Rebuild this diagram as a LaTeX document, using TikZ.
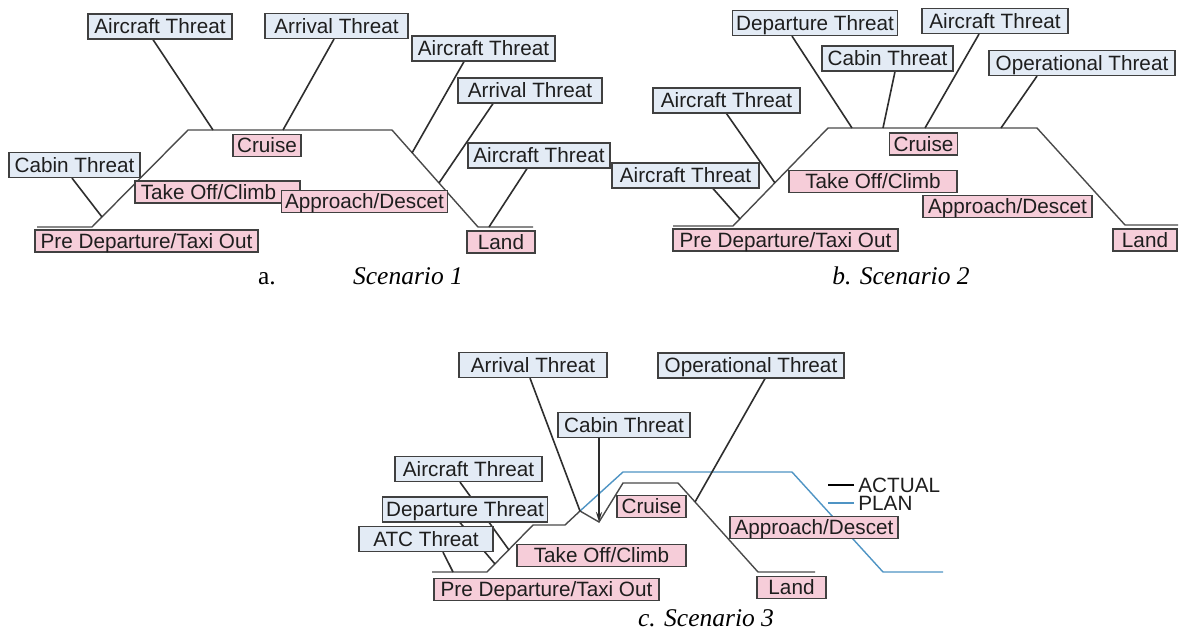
\documentclass[tikz,border=0pt]{standalone}
\usepackage{fontspec}
\setmainfont{Liberation Serif}
\newfontfamily\arialf{Liberation Sans}
\usetikzlibrary{arrows.meta}
\definecolor{tbfill}{HTML}{E3EBF5}
\definecolor{pbfill}{HTML}{F6CDD9}
\definecolor{bdr}{HTML}{404040}
\definecolor{ln}{HTML}{2E2E2E}
\definecolor{rt}{HTML}{4A4A4A}
\definecolor{planblue}{HTML}{4F94C4}
\definecolor{txt}{HTML}{1E1E1E}
\pgfdeclarelayer{bg}
\pgfsetlayers{bg,main}
\tikzset{
  box/.style={draw=bdr, line width=0.6pt, font=\arialf\fontsize{10.35}{12}\selectfont, text=txt,
    text height=7.45pt, text depth=0pt, inner xsep=2pt, inner ysep=0pt, anchor=center},
  tb/.style={box, fill=tbfill, minimum height=12.5pt},
  pb/.style={box, fill=pbfill, minimum height=11pt},
  conn/.style={draw=ln, line width=0.8pt},
  route/.style={draw=rt, line width=0.7pt},
  plan/.style={draw=planblue, line width=0.7pt},
  captxt/.style={font=\fontsize{12.75}{14}\selectfont\itshape, anchor=base, inner sep=0pt, text=black},
  lgd/.style={font=\arialf\fontsize{10.35}{12}\selectfont, text=txt, anchor=west, inner sep=0pt},
}
\begin{document}
\begin{tikzpicture}[x=0.5pt,y=-0.5pt]
\useasboundingbox (0,0) rectangle (1179,631);

% ---------------- Scenario 1 ----------------
\node[tb, minimum width=72pt]   (s1a1) at (160,26.5)  {Aircraft Threat};
\node[tb, minimum width=71.5pt] (s1r1) at (336.5,26)  {Arrival Threat};
\node[tb, minimum width=71.5pt] (s1a2) at (483.5,48.5){Aircraft Threat};
\node[tb, minimum width=72pt]   (s1r2) at (530,90.5)  {Arrival Threat};
\node[tb, minimum width=71pt]   (s1a3) at (539,155.5) {Aircraft Threat};
\node[tb, minimum width=65.5pt] (s1cb) at (74.5,165)  {Cabin Threat};
\node[pb, minimum width=34pt]   (s1cr) at (267,145.5) {Cruise};
\node[pb, minimum width=82.5pt] (s1to) at (217.5,192) {Take Off/Climb\hspace*{9pt}};
\node[pb, minimum width=82.5pt] (s1ap) at (364.5,201.5){Approach/Descet};
\node[pb, minimum width=111.5pt](s1pd) at (146.5,241) {Pre Departure/Taxi Out};
\node[pb, minimum width=34pt]   (s1ld) at (501,242)   {Land};

\coordinate (s1p0) at (37,227);
\coordinate (s1p1) at (92,227);
\coordinate (s1p2) at (188,130);
\coordinate (s1p3) at (392,130);
\coordinate (s1p4) at (478,227);
\coordinate (s1p5) at (533,227);
\coordinate (s1e1) at (213,130);
\coordinate (s1e2) at (283,130);
\coordinate (s1e3) at (412,153);
\coordinate (s1e4) at (439,183);
\coordinate (s1e5) at (489,227);
\coordinate (s1e6) at (102,217);

% ---------------- Scenario 2 ----------------
\node[tb, minimum width=82pt]   (s2dp) at (815,23)    {Departure Threat};
\node[tb, minimum width=65.5pt] (s2cb) at (887.5,58.5){Cabin Threat};
\node[tb, minimum width=73pt]   (s2a1) at (995,21)    {Aircraft Threat};
\node[tb, minimum width=93pt]   (s2op) at (1082,63)   {Operational Threat};
\node[tb, minimum width=73.5pt] (s2a2) at (726.5,100.5){Aircraft Threat};
\node[tb, minimum width=73.5pt] (s2a3) at (685.5,175.5){Aircraft Threat};
\node[pb, minimum width=33.5pt] (s2cr) at (923.5,144) {Cruise};
\node[pb, minimum width=84pt]   (s2to) at (873,181.5) {Take Off/Climb};
\node[pb, minimum width=84.5pt] (s2ap) at (1007.5,206.5){Approach/Descet};
\node[pb, minimum width=112.5pt](s2pd) at (785.5,240) {Pre Departure/Taxi Out};
\node[pb, minimum width=32pt]   (s2ld) at (1145,240)  {Land};

\coordinate (s2p0) at (673,226);
\coordinate (s2p1) at (733,226);
\coordinate (s2p2) at (828,128);
\coordinate (s2p3) at (1037,128);
\coordinate (s2p4) at (1125,225);
\coordinate (s2p5) at (1178,225);
\coordinate (s2e1) at (852,128);
\coordinate (s2e2) at (883,128);
\coordinate (s2e3) at (925,128);
\coordinate (s2e4) at (1001,128);
\coordinate (s2e5) at (775,183);
\coordinate (s2e6) at (740,219);

% ---------------- Scenario 3 ----------------
\node[tb, minimum width=74pt]   (s3ar)  at (533,365)   {Arrival Threat};
\node[tb, minimum width=93pt]   (s3op)  at (751,365.5) {Operational Threat};
\node[tb, minimum width=66pt]   (s3cb)  at (624,425)   {Cabin Threat};
\node[tb, minimum width=73.5pt] (s3ac)  at (468.5,469) {Aircraft Threat};
\node[tb, minimum width=82pt]   (s3dp)  at (465,509.5) {Departure Threat};
\node[tb, minimum width=67pt]   (s3atc) at (426,539)   {ATC Threat};
\node[pb, minimum width=34.5pt] (s3cr)  at (651.5,506.5){Cruise};
\node[pb, minimum width=84.5pt] (s3to)  at (601.5,555.5){Take Off/Climb};
\node[pb, minimum width=84pt]   (s3ap)  at (814,527.5) {Approach/Descet};
\node[pb, minimum width=34.5pt] (s3ld)  at (791.5,587.5){Land};
\node[pb, minimum width=112.5pt](s3pd)  at (546.5,589.5){Pre Departure/Taxi Out};

\coordinate (s3p0) at (432,572);
\coordinate (s3p1) at (487,572);
\coordinate (s3p2) at (533,525);
\coordinate (s3p3) at (565,525);
\coordinate (s3p4) at (580,511);
\coordinate (s3p5) at (599,522);
\coordinate (s3p6) at (623,483);
\coordinate (s3p7) at (678,483);
\coordinate (s3p8) at (758,572);
\coordinate (s3p9) at (815,572);
\coordinate (s3q1) at (623,472);
\coordinate (s3q2) at (792,472);
\coordinate (s3q3) at (883,572);
\coordinate (s3q4) at (943,572);
\coordinate (s3e2) at (695,502);
\coordinate (s3e4) at (509,550);
\coordinate (s3e5) at (495,564);
\coordinate (s3e6) at (453,572);

% legend
\node[lgd] (lgA) at (858,485) {ACTUAL};
\node[lgd] (lgP) at (858,503) {PLAN};

% captions
\node[captxt, font=\fontsize{12.75}{14}\selectfont] (capa) at (267,285) {a.};
\node[captxt] (cap1) at (408,285) {Scenario 1};
\node[captxt] (cap2) at (901,285) {b. Scenario 2};
\node[captxt] (cap3) at (706,626) {c. Scenario 3};

\begin{pgfonlayer}{bg}
\fill[white] (0,0) rectangle (1179,631);
% scenario 1
\draw[route] (s1p0) -- (s1p1) -- (s1p2) -- (s1p3) -- (s1p4) -- (s1p5);
\draw[conn] ([xshift=-3.5pt]s1a1.south) -- (s1e1);
\draw[conn] ([xshift=-1.25pt]s1r1.south) -- (s1e2);
\draw[conn] ([xshift=-9.75pt]s1a2.south) -- (s1e3);
\draw[conn] ([xshift=-18.5pt]s1r2.south) -- (s1e4);
\draw[conn] ([xshift=-6pt]s1a3.south) -- (s1e5);
\draw[conn] ([xshift=-1.25pt]s1cb.south) -- (s1e6);
% scenario 2
\draw[route] (s2p0) -- (s2p1) -- (s2p2) -- (s2p3) -- (s2p4) -- (s2p5);
\draw[conn] ([xshift=-11.5pt]s2dp.south) -- (s2e1);
\draw[conn] ([xshift=3.75pt]s2cb.south) -- (s2e2);
\draw[conn] ([xshift=-8pt]s2a1.south) -- (s2e3);
\draw[conn] ([xshift=-22.5pt]s2op.south) -- (s2e4);
\draw[conn] (s2a2.south) -- (s2e5);
\draw[conn] ([xshift=13.75pt]s2a3.south) -- (s2e6);
% scenario 3
\draw[plan] (s3p4) -- (s3q1) -- (s3q2) -- (s3q3) -- (s3q4);
\draw[route] (s3p0) -- (s3p1) -- (s3p2) -- (s3p3) -- (s3p4) -- (s3p5) -- (s3p6) -- (s3p7) -- (s3p8) -- (s3p9);
\draw[conn] ([xshift=-1.5pt]s3ar.south) -- (s3p4);
\draw[conn] ([xshift=7pt]s3op.south) -- (s3e2);
\draw[conn, -{Stealth[length=5pt,width=3pt]}] ([xshift=-12.5pt]s3cb.south) -- (s3p5);
\draw[conn] ([xshift=-4.25pt]s3ac.south) -- (s3e4);
\draw[conn] ([xshift=-2.5pt]s3dp.south) -- (s3e5);
\draw[conn] ([xshift=8.5pt]s3atc.south) -- (s3e6);
% legend lines
\draw[draw=black, line width=0.7pt] ([xshift=-2pt]lgA.west) -- ++(-26,0);
\draw[plan] ([xshift=-2pt]lgP.west) -- ++(-26,0);
\end{pgfonlayer}
\end{tikzpicture}
\end{document}
